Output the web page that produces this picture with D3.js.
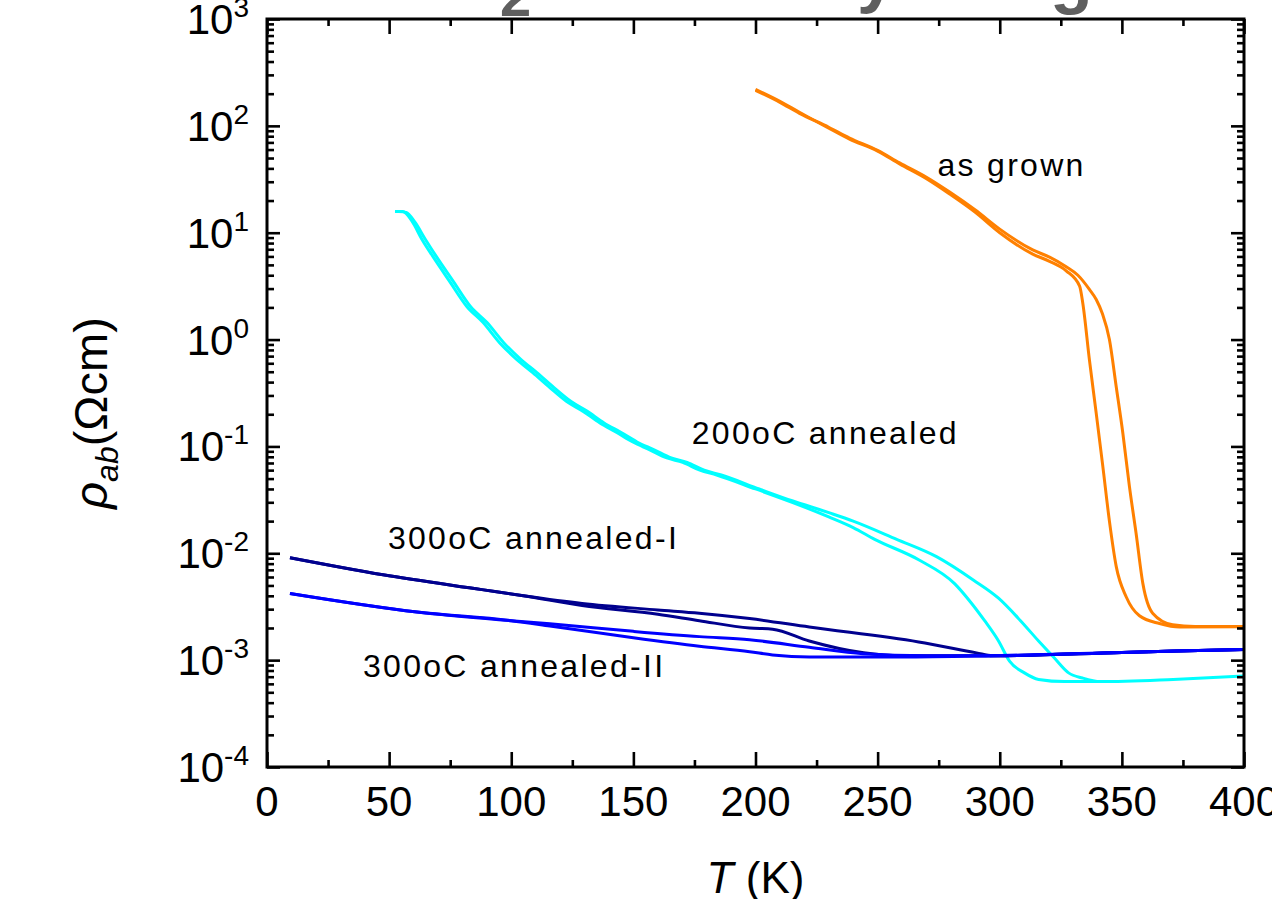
<!DOCTYPE html>
<html>
<head>
<meta charset="utf-8">
<script src="https://cdn.jsdelivr.net/npm/d3@7"></script>
<style>
  html, body { margin: 0; padding: 0; background: #fff; }
  svg { display: block; font-family: "Liberation Sans", Arial, sans-serif; }
</style>
</head>
<body>
<svg id="chart" width="1272" height="899"></svg>
<script>
// resistivity curves, [T (K), rho_ab (Ohm cm)]
const asGrownCool = [[200, 220], [210, 170], [218, 134], [230, 95], [238.5, 75], [250, 58], [259, 44], [270, 32], [279.5, 23], [290, 15.5], [300, 10], [313.5, 6.3], [320.4, 5.4], [327.2, 4.4], [332.7, 3.16], [334, 2.19], [336.7, 0.65], [339.5, 0.204], [342.2, 0.065], [344.9, 0.020], [347.7, 0.0075], [351.8, 0.0039], [357.2, 0.0026], [365.4, 0.0022], [373.6, 0.00204], [400, 0.00205]];
const asGrownWarm = [[200, 215], [210, 166], [218, 131], [230, 97], [238.5, 77], [250, 59], [259, 45], [270, 33], [279.5, 24], [290, 16.3], [300, 10.8], [313.5, 6.9], [320.4, 5.9], [327.2, 4.8], [332, 4.0], [336.7, 2.95], [339.5, 2.37], [342, 1.75], [344.9, 1.0], [347.7, 0.36], [350.4, 0.133], [353.1, 0.042], [355.8, 0.0155], [358.6, 0.0052], [362.6, 0.00275], [370.8, 0.00214], [380, 0.00206], [400, 0.00206]];

const annealed200Cool = [[52.4, 15.8], [55.6, 15.8], [59.3, 12.9], [63.4, 8.7], [67.9, 6.0], [74.9, 3.47], [81.8, 2.04], [88.4, 1.45], [95.3, 0.93], [102.3, 0.65], [108.8, 0.49], [115.8, 0.355], [122.7, 0.263], [129.3, 0.214], [136.3, 0.166], [143.2, 0.135], [149.8, 0.110], [156.7, 0.093], [163.7, 0.078], [170.2, 0.071], [177.2, 0.060], [184.1, 0.054], [200, 0.040], [215, 0.030], [230, 0.0219], [240, 0.0174], [248.8, 0.0135], [266.8, 0.0087], [281.5, 0.0052], [287.6, 0.0036], [293.8, 0.00234], [299.5, 0.00151], [304, 0.00098], [310.1, 0.00076], [315.9, 0.00066], [326.5, 0.00063], [341, 0.00063]];
const annealed200Warm = [[54, 15.8], [57, 15.5], [60.5, 12.6], [64.8, 8.7], [69.3, 6.0], [76.4, 3.47], [83.3, 2.04], [90, 1.45], [97, 0.93], [104, 0.65], [110.5, 0.49], [117.5, 0.355], [124.5, 0.263], [131, 0.214], [138, 0.166], [145, 0.135], [151.5, 0.110], [158.5, 0.093], [165.5, 0.078], [172, 0.071], [179, 0.060], [186, 0.054], [201.5, 0.040], [215, 0.031], [230, 0.024], [240, 0.020], [257.8, 0.0135], [274.1, 0.0093], [289.3, 0.0056], [299.5, 0.0038], [308.5, 0.00234], [315.9, 0.00151], [322, 0.00107], [328.2, 0.00076], [333.9, 0.00068], [341.2, 0.00063], [371, 0.00066], [400, 0.00071]];

const annealedICool = [[9.4, 0.0091], [47.5, 0.0063], [88, 0.00457], [105, 0.0040], [129, 0.00324], [160, 0.00269], [177, 0.00234], [197.6, 0.0020], [207, 0.00195], [222, 0.00151], [244.3, 0.00117], [259.4, 0.0011], [297, 0.0011], [350, 0.00118], [400, 0.00126]];
const annealedIWarm = [[9.4, 0.0091], [47.5, 0.0063], [88, 0.00457], [105, 0.0040], [129, 0.00339], [160, 0.00295], [177, 0.00275], [197.6, 0.00245], [222, 0.00204], [266.8, 0.00148], [290.5, 0.00117], [297, 0.0011], [350, 0.00118], [400, 0.00126]];

const annealedIICool = [[9.4, 0.0042], [61.4, 0.00282], [100, 0.00234], [115.8, 0.00209], [150, 0.00162], [177, 0.00135], [197.6, 0.0012], [207, 0.00112], [222, 0.00107], [260, 0.00107], [297, 0.0011], [350, 0.00118], [400, 0.00126]];
const annealedIIWarm = [[9.4, 0.0042], [61.4, 0.00282], [100, 0.00234], [115.8, 0.00219], [150, 0.00186], [177, 0.00166], [197.6, 0.00155], [222, 0.00132], [244, 0.00115], [270, 0.0011], [297, 0.0011], [350, 0.00118], [400, 0.00126]];

const series = [
  { name: 'as grown', color: '#ff8000', data: [asGrownCool, asGrownWarm] },
  { name: '200oC annealed', color: '#00ffff', data: [annealed200Cool, annealed200Warm] },
  { name: '300oC annealed-I', color: '#00008e', data: [annealedICool, annealedIWarm] },
  { name: '300oC annealed-II', color: '#0000ff', data: [annealedIICool, annealedIIWarm] },
];

// text labels anchored in data coords [T, rho]
const labels = [
  { text: 'as grown', at: [274.5, 34] },
  { text: '200oC annealed', at: [173.9, 0.106] },
  { text: '300oC annealed-I', at: [49.5, 0.011] },
  { text: '300oC annealed-II', at: [39.3, 0.0007] },
];

const xMajor = [0, 50, 100, 150, 200, 250, 300, 350, 400];
const xMinor = [25, 75, 125, 175, 225, 275, 325, 375];
const yExponents = [-4, -3, -2, -1, 0, 1, 2, 3];

const svg = d3.select('#chart');
const m = { left: 267, right: 1244, top: 19, bottom: 767 };

const x = d3.scaleLinear().domain([0, 400]).range([m.left, m.right]);
const y = d3.scaleLog().domain([1e-4, 1e3]).range([m.bottom, m.top]);

const yMajor = yExponents.map((e) => Math.pow(10, e));
const yMinor = [];
yExponents.slice(0, -1).forEach((e) => {
  for (let k = 2; k <= 9; k++) yMinor.push(k * Math.pow(10, e));
});

// cut-off title fragments at the very top
const title = svg.append('g').attr('fill', '#5f5f5f').attr('font-weight', 'bold');
title.append('text').attr('x', 500).attr('y', 16).attr('font-size', 56).text('2');
title.append('text').attr('x', 857).attr('y', -1).attr('font-size', 70).text('y');
title.append('text').attr('x', 1050).attr('y', 0).attr('font-size', 70).text('g');

// curves
const line = d3.line()
  .x((d) => x(d[0]))
  .y((d) => y(d[1]))
  .curve(d3.curveMonotoneX);
const plot = svg.append('g');
series.forEach((s) => {
  plot.selectAll(null)
    .data(s.data)
    .join('path')
    .attr('d', line)
    .attr('fill', 'none')
    .attr('stroke', s.color)
    .attr('stroke-width', 3)
    .attr('stroke-linejoin', 'round');
});

// axes (inward ticks on all four sides)
function styleAxis(g) {
  g.select('.domain').remove();
  g.selectAll('.tick line').attr('stroke', '#000').attr('stroke-width', 2.6);
  g.selectAll('.tick text').remove();
}
svg.append('g').attr('transform', `translate(0,${m.bottom})`)
  .call(d3.axisBottom(x).tickValues(xMajor).tickSize(-15)).call(styleAxis);
svg.append('g').attr('transform', `translate(0,${m.bottom})`)
  .call(d3.axisBottom(x).tickValues(xMinor).tickSize(-7)).call(styleAxis);
svg.append('g').attr('transform', `translate(0,${m.top})`)
  .call(d3.axisTop(x).tickValues(xMajor).tickSize(-15)).call(styleAxis);
svg.append('g').attr('transform', `translate(0,${m.top})`)
  .call(d3.axisTop(x).tickValues(xMinor).tickSize(-7)).call(styleAxis);
svg.append('g').attr('transform', `translate(${m.left},0)`)
  .call(d3.axisLeft(y).tickValues(yMajor).tickSize(-13)).call(styleAxis);
svg.append('g').attr('transform', `translate(${m.left},0)`)
  .call(d3.axisLeft(y).tickValues(yMinor).tickSize(-7)).call(styleAxis);
svg.append('g').attr('transform', `translate(${m.right},0)`)
  .call(d3.axisRight(y).tickValues(yMajor).tickSize(-13)).call(styleAxis);
svg.append('g').attr('transform', `translate(${m.right},0)`)
  .call(d3.axisRight(y).tickValues(yMinor).tickSize(-7)).call(styleAxis);

svg.append('rect')
  .attr('x', m.left).attr('y', m.top)
  .attr('width', m.right - m.left).attr('height', m.bottom - m.top)
  .attr('fill', 'none').attr('stroke', '#000').attr('stroke-width', 3);

// tick labels
svg.append('g').selectAll('text')
  .data(xMajor)
  .join('text')
  .attr('x', (d) => x(d))
  .attr('y', m.bottom + 49)
  .attr('text-anchor', 'middle')
  .attr('font-size', 42)
  .text((d) => d);

const yl = svg.append('g').selectAll('text')
  .data(yExponents)
  .join('text')
  .attr('x', m.left - 18)
  .attr('y', (d) => y(Math.pow(10, d)) + 15)
  .attr('text-anchor', 'end')
  .attr('font-size', 42);
yl.append('tspan').text('10');
yl.append('tspan').attr('font-size', 28).attr('dy', -17).text((d) => d);

// axis titles
const yt = svg.append('text')
  .attr('transform', 'translate(107,413) rotate(-90)')
  .attr('text-anchor', 'middle')
  .attr('font-size', 47);
yt.append('tspan').attr('font-style', 'italic').text('ρ');
yt.append('tspan').attr('font-style', 'italic').attr('font-size', 32).attr('dy', 11).text('ab');
yt.append('tspan').attr('dy', -11).text('(Ωcm)');

const xt = svg.append('text')
  .attr('x', (m.left + m.right) / 2)
  .attr('y', 893)
  .attr('text-anchor', 'middle')
  .attr('font-size', 44);
xt.append('tspan').attr('font-style', 'italic').text('T');
xt.append('tspan').text(' (K)');

// curve labels
svg.append('g').selectAll('text')
  .data(labels)
  .join('text')
  .attr('x', (d) => x(d.at[0]))
  .attr('y', (d) => y(d.at[1]))
  .attr('font-size', 32)
  .attr('letter-spacing', 2.3)
  .text((d) => d.text);
</script>
</body>
</html>
